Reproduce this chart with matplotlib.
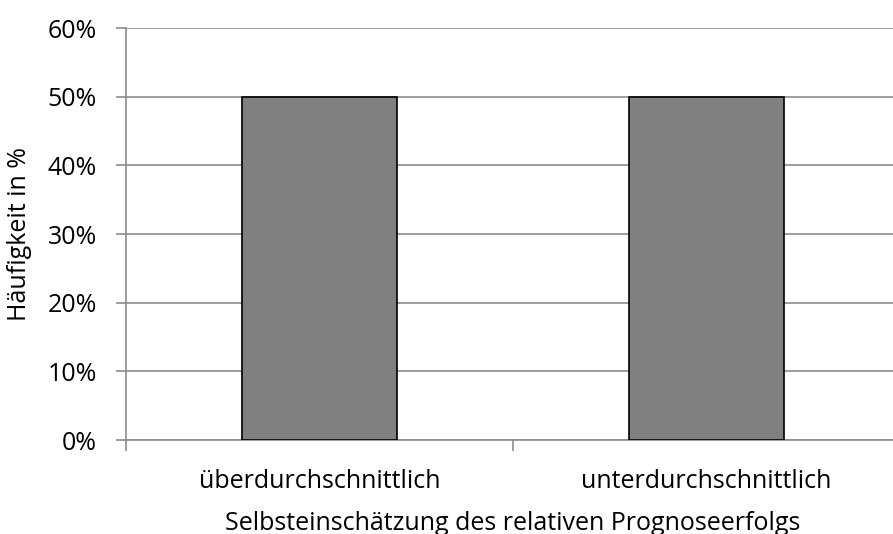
import matplotlib
matplotlib.use("Agg")
import matplotlib.pyplot as plt
from matplotlib.ticker import FuncFormatter

categories = ["überdurchschnittlich", "unterdurchschnittlich"]
shares = [50, 50]
y_ticks = [0, 10, 20, 30, 40, 50, 60]

plt.rcParams['font.family'] = ['Open Sans', 'DejaVu Sans']
fs = 18

fig = plt.figure(figsize=(8.93, 5.34), dpi=100)
ax = fig.add_axes([0.1411, 0.176, 0.8667, 0.7715])

grid_col = "#8c8c8c"
ax.set_axisbelow(True)
ax.yaxis.grid(True, color=grid_col, linewidth=1.2)

xs = list(range(len(categories)))
ax.bar(xs, shares, width=0.4, color="#808080", edgecolor="black", linewidth=1.2, zorder=3)

ax.set_xlim(-0.5, len(categories) - 0.5)
ax.set_ylim(0, 60)
ax.set_yticks(y_ticks)
ax.yaxis.set_major_formatter(FuncFormatter(lambda v, p: f"{v:.0f}%"))

# category boundaries as tick marks, labels centred on the bars
ax.set_xticks([x + 0.5 for x in xs[:-1]] + [-0.5])
ax.set_xticklabels([])
ax.set_xticks(xs, minor=True)
ax.set_xticklabels(categories, minor=True)
ax.tick_params(axis="x", which="minor", length=0, pad=21, labelsize=fs)
ax.tick_params(axis="x", which="major", length=8, width=1.2, color=grid_col)
ax.tick_params(axis="y", length=7, width=1.2, color=grid_col, labelsize=fs, pad=14)

for side in ("top", "right"):
    ax.spines[side].set_visible(False)
for side in ("left", "bottom"):
    ax.spines[side].set_color(grid_col)
    ax.spines[side].set_linewidth(1.2)

ax.set_xlabel("Selbsteinschätzung des relativen Prognoseerfolgs", fontsize=fs, labelpad=12)
ax.set_ylabel("Häufigkeit in %", fontsize=fs, labelpad=11)

fig.savefig("out.png", dpi=100)
